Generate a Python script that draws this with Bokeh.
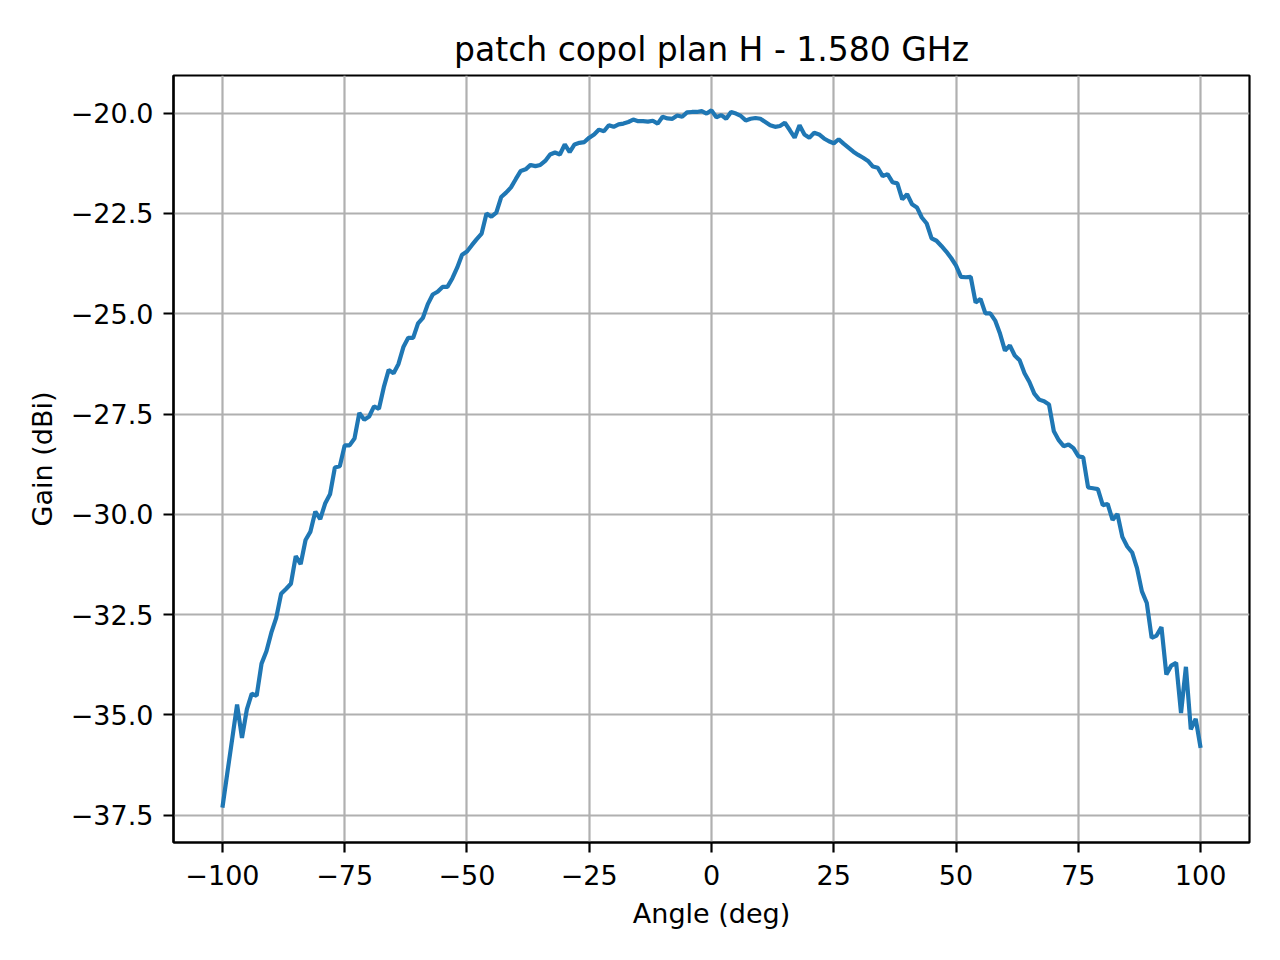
from bokeh.plotting import figure
from bokeh.models import FixedTicker, Range1d
from bokeh.embed import file_html
from bokeh.resources import INLINE

# data: measured copol gain vs angle, one sample per degree
angles = list(range(-100, 101))
gain = [
    -37.31, -36.45, -35.60, -34.74, -35.57, -34.86, -34.47, -34.52, -33.72, -33.41,
    -32.95, -32.58, -31.98, -31.86, -31.73, -31.04, -31.24, -30.64, -30.43, -29.93,
    -30.12, -29.73, -29.50, -28.83, -28.80, -28.28, -28.28, -28.11, -27.47, -27.64,
    -27.56, -27.31, -27.37, -26.83, -26.40, -26.48, -26.25, -25.83, -25.60, -25.60,
    -25.24, -25.10, -24.76, -24.52, -24.45, -24.33, -24.33, -24.12, -23.85, -23.53,
    -23.45, -23.29, -23.14, -23.00, -22.50, -22.58, -22.48, -22.09, -21.98, -21.85,
    -21.64, -21.44, -21.40, -21.29, -21.32, -21.29, -21.19, -21.03, -20.98, -21.03,
    -20.78, -20.97, -20.78, -20.74, -20.72, -20.61, -20.53, -20.41, -20.45, -20.30,
    -20.34, -20.28, -20.26, -20.22, -20.16, -20.20, -20.20, -20.21, -20.19, -20.26,
    -20.09, -20.13, -20.14, -20.06, -20.09, -19.98, -19.97, -19.97, -19.95, -20.01,
    -19.93, -20.10, -20.05, -20.14, -19.97, -20.01, -20.07, -20.18, -20.14, -20.12,
    -20.14, -20.22, -20.30, -20.34, -20.32, -20.24, -20.42, -20.61, -20.30, -20.53,
    -20.61, -20.49, -20.53, -20.63, -20.70, -20.75, -20.65, -20.76, -20.86, -20.96,
    -21.04, -21.11, -21.19, -21.33, -21.36, -21.57, -21.52, -21.72, -21.75, -22.15,
    -22.02, -22.27, -22.35, -22.60, -22.75, -23.12, -23.18, -23.31, -23.45, -23.61,
    -23.80, -24.08, -24.09, -24.08, -24.72, -24.63, -24.99, -24.99, -25.17, -25.50,
    -25.92, -25.79, -26.04, -26.16, -26.48, -26.70, -26.99, -27.14, -27.18, -27.26,
    -27.93, -28.15, -28.30, -28.26, -28.35, -28.55, -28.58, -29.33, -29.35, -29.37,
    -29.77, -29.74, -30.14, -29.99, -30.56, -30.80, -30.95, -31.34, -31.92, -32.21,
    -33.08, -33.02, -32.81, -33.99, -33.77, -33.70, -34.95, -33.80, -35.36, -35.10,
    -35.82,
]

x_ticks = [-100, -75, -50, -25, 0, 25, 50, 75, 100]
x_tick_labels = ["\u2212100", "\u221275", "\u221250", "\u221225", "0", "25", "50", "75", "100"]
y_ticks = [-37.5, -35.0, -32.5, -30.0, -27.5, -25.0, -22.5, -20.0]
y_tick_labels = ["\u221237.5", "\u221235.0", "\u221232.5", "\u221230.0",
                 "\u221227.5", "\u221225.0", "\u221222.5", "\u221220.0"]

FONT = "DejaVu Sans"

p = figure(title="patch copol plan H - 1.580 GHz",
           x_axis_label="Angle (deg)", y_axis_label="Gain (dBi)",
           width=1264, height=944,
           output_backend="svg", toolbar_location=None,
           min_border_left=173, min_border_right=15,
           min_border_top=75, min_border_bottom=102)

# matplotlib-like 5% margins
xspan = max(angles) - min(angles)
yspan = max(gain) - min(gain)
p.x_range = Range1d(min(angles) - 0.05 * xspan, max(angles) + 0.05 * xspan)
p.y_range = Range1d(min(gain) - 0.05 * yspan, max(gain) + 0.05 * yspan)

p.line(angles, gain, line_width=4.2, color="#1f77b4")

# title
p.title.text_font = FONT
p.title.text_font_size = "33px"
p.title.text_font_style = "normal"
p.title.align = "center"
p.title.text_color = "black"
p.title.standoff = 14

# frame
p.outline_line_color = "black"
p.outline_line_width = 2.2
p.outline_line_alpha = 1.0

# grid
for g in (p.xgrid, p.ygrid):
    g.grid_line_color = "#b0b0b0"
    g.grid_line_width = 2.2
p.xgrid.ticker = FixedTicker(ticks=x_ticks)
p.ygrid.ticker = FixedTicker(ticks=y_ticks)

# axes
p.xaxis.ticker = FixedTicker(ticks=x_ticks)
p.yaxis.ticker = FixedTicker(ticks=y_ticks)
p.xaxis.major_label_overrides = dict(zip(x_ticks, x_tick_labels))
p.yaxis.major_label_overrides = dict(zip(y_ticks, y_tick_labels))
for ax in (p.xaxis[0], p.yaxis[0]):
    ax.axis_line_color = "black"
    ax.axis_line_width = 2.2
    ax.major_tick_line_color = "black"
    ax.major_tick_line_width = 2.2
    ax.major_tick_out = 10
    ax.major_tick_in = 0
    ax.minor_tick_line_color = None
    ax.major_label_text_font = FONT
    ax.major_label_text_font_size = "27px"
    ax.major_label_text_color = "black"
    ax.major_label_standoff = 10
    ax.axis_label_text_font = FONT
    ax.axis_label_text_font_size = "27px"
    ax.axis_label_text_font_style = "normal"
    ax.axis_label_text_color = "black"
    ax.axis_label_standoff = 10
p.xaxis.major_label_standoff = 12

open("out.html", "w").write(file_html(p, INLINE))
